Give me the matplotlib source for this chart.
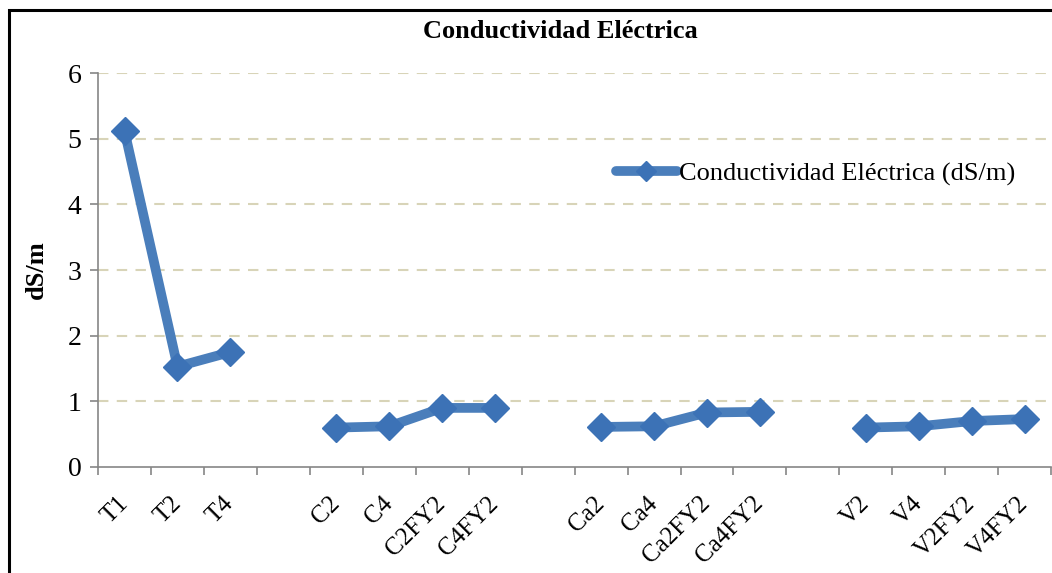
import numpy as np
import matplotlib.pyplot as plt
from matplotlib.patches import Rectangle
from matplotlib.lines import Line2D

plt.rcParams['font.family'] = ['Liberation Serif', 'DejaVu Serif']

# categories, '' marks the empty slots between groups
labels = ['T1', 'T2', 'T4', '',
          'C2', 'C4', 'C2FY2', 'C4FY2', '',
          'Ca2', 'Ca4', 'Ca2FY2', 'Ca4FY2', '',
          'V2', 'V4', 'V2FY2', 'V4FY2']
values = [5.12, 1.53, 1.75, np.nan,
          0.60, 0.62, 0.90, 0.90, np.nan,
          0.61, 0.62, 0.83, 0.84, np.nan,
          0.60, 0.62, 0.70, 0.73]
series_name = 'Conductividad Eléctrica (dS/m)'

blue = '#4a7ebb'
mark_c = '#3c72b6'
grid_c = '#d8d4b8'
axis_c = '#868686'

fig = plt.figure(figsize=(10.52, 5.73), dpi=100)
ax = fig.add_axes([0.0932, 0.185, 0.906, 0.6875])

x = np.arange(len(labels))
ax.plot(x, values, color=blue, lw=7, marker='D', markersize=14,
        markerfacecolor=mark_c, markeredgecolor=mark_c, solid_capstyle='butt')

ax.set_xlim(-0.5, len(labels) - 0.5)
ax.set_ylim(0, 6)
ax.set_yticks(range(0, 7))
ax.set_yticklabels([str(i) for i in range(0, 7)], fontsize=20)

# ticks at category boundaries, labels at centres
ax.set_xticks(np.arange(len(labels) + 1) - 0.5)
ax.set_xticklabels([])
ax.set_xticks(x, minor=True)
ax.set_xticklabels(labels, minor=True, rotation=45, ha='right', va='center',
                   rotation_mode='anchor', fontsize=18)
ax.tick_params(axis='x', which='minor', length=0, pad=24)
ax.tick_params(axis='x', which='major', length=6, color=axis_c, width=1.2, direction='out')
ax.tick_params(axis='y', length=6, color=axis_c, width=1.2, pad=6)

for y in range(1, 7):
    ax.axhline(y, color=grid_c, lw=1.5, ls=(0, (5, 4)), zorder=0)

for s in ['top', 'right']:
    ax.spines[s].set_visible(False)
ax.spines['left'].set_color(axis_c)
ax.spines['bottom'].set_color(axis_c)
ax.spines['left'].set_linewidth(1.2)
ax.spines['bottom'].set_linewidth(1.2)

ax.set_ylabel('dS/m', fontsize=19, fontweight='bold', labelpad=14)

fig.text(0.533, 0.945, 'Conductividad Eléctrica', ha='center', va='center',
         fontsize=19, fontweight='bold')

handle = Line2D([], [], color=blue, lw=7, marker='D', markersize=10,
                markerfacecolor=mark_c, markeredgecolor=mark_c,
                solid_capstyle='round')
fig.legend([handle], [series_name], loc='center left', bbox_to_anchor=(0.563, 0.697),
           frameon=False, fontsize=19, handlelength=2.3, handletextpad=0.1)

# chart border, cropped at right and bottom
fig.patches.append(Rectangle((9 / 1052, -0.1), 1.2, 1 - 10 / 573 + 0.1,
                             transform=fig.transFigure, fill=False,
                             edgecolor='black', lw=2.2))

fig.savefig('out.png', dpi=100)
